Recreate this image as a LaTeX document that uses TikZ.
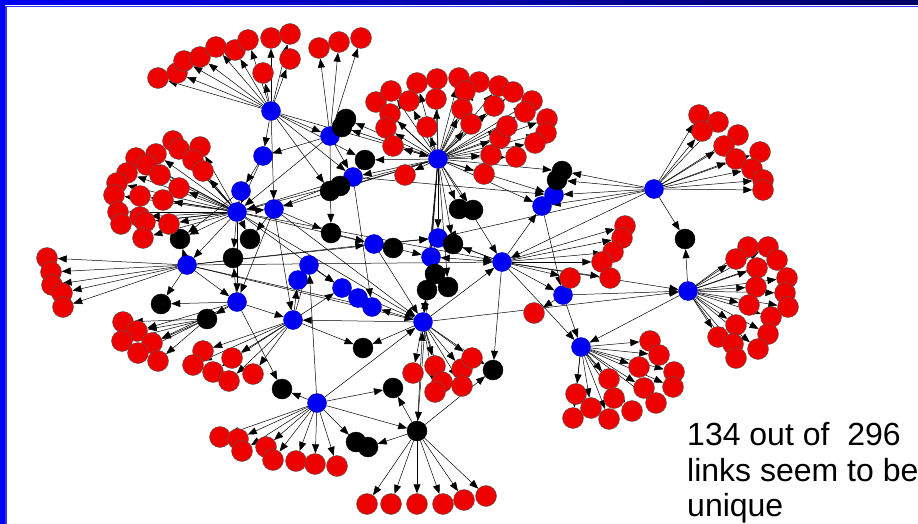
\documentclass[tikz,border=0pt]{standalone}
\usepackage{fontspec}
\setmainfont{Liberation Sans}
\usetikzlibrary{arrows.meta}
\usetikzlibrary{backgrounds}
\definecolor{leafred}{RGB}{236,0,0}
\definecolor{hubblue}{RGB}{0,0,242}
\definecolor{barnavy}{RGB}{0,0,100}
\tikzstyle{rdot}=[circle, inner sep=0pt, minimum size=21pt, draw=black!65, fill=leafred]
\tikzstyle{bdot}=[circle, inner sep=0pt, minimum size=19pt, draw=hubblue!80!black, fill=hubblue]
\tikzstyle{kdot}=[circle, inner sep=0pt, minimum size=20pt, draw=black, fill=black]
\tikzstyle{link}=[-{Triangle[length=9pt,width=7pt]}, line width=.5pt]
\tikzstyle{note}=[anchor=base west, inner sep=0pt, font=\fontsize{32}{36}\selectfont]

\begin{document}
\begin{tikzpicture}[x=1pt, y=-1pt]
    \useasboundingbox (0,0) rectangle (918,524);
    % frame
    \fill[hubblue] (0,0) rectangle (5,524);
    \shade[left color=hubblue, right color=barnavy] (0,0) rectangle (918,5);
    \draw[hubblue!80, line width=1.2pt] (6,524) -- (6,6.5) -- (918,6.5);
    % hubs
    \foreach \n/\x/\y in {H1/271/111, H2/330/136, H3/263/156, H4/241/191,
          H5/237/212, H6/274/209, H7/438/159, H8/353/177, H9/554/195,
          H10/542/206, H11/654/189, H12/187/265, H13/237/302, H14/293/320,
          H15/374/244, H16/438/238, H17/431/257, H18/309/265, H19/298/280,
          H20/342/288, H21/358/298, H22/372/307, H23/502/262, H24/563/295,
          H25/688/291, H26/423/322, H27/581/347, H28/317/403}
      \node[bdot] (\n) at (\x,\y) {};
    \foreach \n/\x/\y in {K1/346/119, K2/342/127, K3/365/160, K4/330/191,
          K5/340/186, K6/459/209, K7/473/210, K8/562/171, K9/557/180,
          K10/331/233, K11/393/248, K12/453/244, K13/427/290, K14/448/287,
          K15/435/274, K16/180/239, K17/250/239, K18/233/258, K19/161/304,
          K20/207/319, K21/685/239, K22/363/348, K23/393/388, K24/493/370,
          K25/282/389, K26/356/442, K27/368/447, K28/417/431}
      \node[kdot] (\n) at (\x,\y) {};
    % leaves
    \foreach \x/\y [count=\i] in {158/78, 177/73, 184/61, 200/57, 216/47,
          235/50, 248/40, 271/38, 290/34, 263/73, 290/59}
      \node[rdot] (ra\i) at (\x,\y) {};
    \foreach \x/\y [count=\i] in {319/48, 339/42, 361/38}
      \node[rdot] (rb\i) at (\x,\y) {};
    \foreach \x/\y [count=\i] in {376/102, 391/91, 417/83, 437/79, 459/78,
          479/82, 499/86, 513/92, 532/101, 547/119, 546/133, 535/143, 516/157,
          491/155, 500/138, 507/126, 525/112, 494/106, 465/91, 462/109,
          471/124, 436/99, 409/101, 390/114, 386/128, 427/127, 393/146,
          484/174, 405/175}
      \node[rdot] (rc\i) at (\x,\y) {};
    \foreach \x/\y [count=\i] in {173/141, 179/149, 200/147, 193/160, 203/171,
          156/154, 136/158, 147/165, 127/173, 160/175, 117/183, 179/188,
          114/195, 140/196, 163/200, 118/212, 140/217, 145/222, 121/224,
          169/224, 143/238}
      \node[rdot] (rd\i) at (\x,\y) {};
    \foreach \x/\y [count=\i] in {47/258, 51/272, 52/285, 62/293, 63/307}
      \node[rdot] (re\i) at (\x,\y) {};
    \foreach \x/\y [count=\i] in {123/322, 137/331, 122/341, 152/343, 138/353,
          158/361}
      \node[rdot] (rf\i) at (\x,\y) {};
    \foreach \x/\y [count=\i] in {203/351, 232/358, 193/365, 213/372, 229/381,
          253/374}
      \node[rdot] (rg\i) at (\x,\y) {};
    \foreach \x/\y [count=\i] in {220/437, 238/439, 242/451, 266/447, 273/460,
          296/461, 315/464, 337/466}
      \node[rdot] (rh\i) at (\x,\y) {};
    \foreach \x/\y [count=\i] in {367/504, 391/504, 417/504, 443/504, 464/500,
          486/496}
      \node[rdot] (ri\i) at (\x,\y) {};
    \foreach \x/\y [count=\i] in {413/373, 435/366, 442/382, 435/392, 462/369,
          472/358, 462/386}
      \node[rdot] (rj\i) at (\x,\y) {};
    \foreach \x/\y [count=\i] in {699/115, 718/122, 702/131, 738/135, 724/146,
          760/152, 736/159, 752/169, 763/180, 763/190}
      \node[rdot] (rk\i) at (\x,\y) {};
    \foreach \x/\y [count=\i] in {748/247, 768/247, 736/259, 777/260, 757/268,
          787/278, 756/287, 785/293, 788/307, 749/305, 771/317, 736/325,
          768/334, 718/337, 733/344, 758/349, 736/358}
      \node[rdot] (rl\i) at (\x,\y) {};
    \foreach \x/\y [count=\i] in {650/341, 659/355, 639/367, 674/372, 673/387,
          644/388, 609/379, 656/403, 614/398, 632/411, 591/408, 609/419,
          576/394, 573/418}
      \node[rdot] (rm\i) at (\x,\y) {};
    \foreach \x/\y [count=\i] in {625/226, 622/238, 613/252, 602/262, 610/278,
          570/278, 534/313}
      \node[rdot] (rn\i) at (\x,\y) {};
    % links, under the dots
    \begin{pgfonlayer}{background}
      \fill[white] (0,0) rectangle (918,524);
      \foreach \i in {1,...,11} \draw[link] (H1) -- (ra\i);
      \foreach \i in {1,...,3} \draw[link] (H2) -- (rb\i);
      \foreach \i in {1,...,29} \draw[link] (H7) -- (rc\i);
      \foreach \i in {1,...,21} \draw[link] (H5) -- (rd\i);
      \foreach \i in {1,...,5} \draw[link] (H12) -- (re\i);
      \foreach \i in {1,...,6} \draw[link] (K20) -- (rf\i);
      \foreach \i in {1,...,6} \draw[link] (H14) -- (rg\i);
      \foreach \i in {1,...,8} \draw[link] (H28) -- (rh\i);
      \foreach \i in {1,...,6} \draw[link] (K28) -- (ri\i);
      \foreach \i in {1,...,7} \draw[link] (H26) -- (rj\i);
      \foreach \i in {1,...,10} \draw[link] (H11) -- (rk\i);
      \foreach \i in {1,...,17} \draw[link] (H25) -- (rl\i);
      \foreach \i in {1,...,14} \draw[link] (H27) -- (rm\i);
      \foreach \i in {1,...,6} \draw[link] (H23) -- (rn\i);
      \draw[link] (H24) -- (rn7);
      \draw[link] (H13) -- (rf2);
      \draw[link] (H13) -- (rf4);
      \foreach \from/\to in {H1/H3, H1/H6, H1/H2, H1/K3, H1/H8, H1/K4,
            H3/H4, H2/H5, H2/H3, H2/H8, H7/K1, H7/K2, H7/K3, H7/H8, H7/H9,
            H7/H10, H7/K8, H7/K6, H7/K7, H7/H16, H7/H17, H7/K13, H7/K14,
            H7/K12, H7/H5, H7/H6, H7/K4, H7/K28, H7/H23, H11/H9, H11/H10,
            H11/K8, H11/K9, H11/K21, H11/H23, H25/K21, H25/H27, H24/H25,
            H23/H25, H26/H25, H23/H27, H24/H27, H23/K24, H23/H17, H23/H16,
            H23/K12, H23/H10, H23/H24, H26/K22, H26/H22, H26/H20, H26/K13,
            H26/H14, H26/H23, H26/K24, K28/K23, H28/K23, H28/H26, H28/K26,
            K28/K27, K28/H26, K28/K24, H28/K25, H13/K25, H28/H18, H28/K28,
            H12/H13, H12/K19, H12/K16, H12/H15, H12/H16, H12/H23, H12/H26,
            H5/H12, H5/K16, H5/K17, H5/K18, H5/H13, H5/H6, H5/H4, H5/H15,
            H5/H26, H5/H23, H5/H8, H6/K17, H6/H13, H6/K10, H6/H8, H6/H26,
            H13/K20, H13/H14, H13/K19, H13/K18, H14/H18, H14/H19, H14/H20,
            H14/K22, H15/K11, H15/H16, H8/K4, H8/K5, K10/H15, H8/H9, H8/H22,
            H18/H19, H20/H21, H21/H22, H18/H20, H16/H17, H17/K15, K15/K13,
            H4/K16, H3/H5, H2/K10, K3/H8, H15/H26, K11/H17, H17/H26,
            H10/H24, H7/H26, H12/H22, H5/H20, H11/H16, H6/H14, H1/H7}
        \draw[link] (\from) -- (\to);
    \end{pgfonlayer}
    % caption
    \node[note] (t1) at (687,445) {134 out of \ 296};
    \node[note] (t2) at (687,481) {links seem to be};
    \node[note] (t3) at (687,516) {unique};
\end{tikzpicture}
\end{document}
